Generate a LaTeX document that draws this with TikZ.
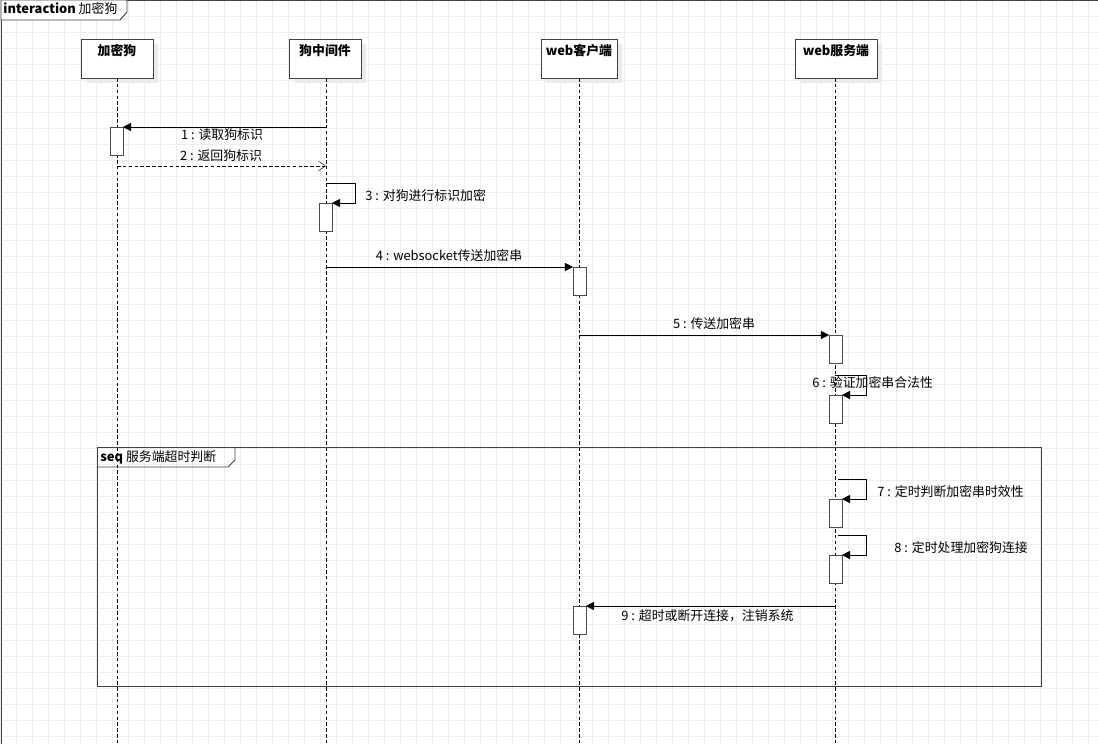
\documentclass[tikz,border=0pt]{standalone}
\usepackage{fontspec}
\setmainfont{Liberation Sans}
\newfontfamily\cjk{Noto Sans CJK SC}
\usetikzlibrary{arrows.meta}
\tikzset{
	obj/.style={draw=black!75,fill=white,thick,anchor=north west,inner sep=0pt},
	shadowbox/.style={fill=black!8},
	act/.style={draw=black!70,fill=white,thick},
	msg/.style={-{Triangle[length=7pt,width=7pt]}},
	reply/.style={densely dashed,-{Straight Barb[length=6pt,width=8pt]}},
	life/.style={densely dashed},
	lbl/.style={font=\cjk\fontsize{11}{13}\selectfont,inner sep=1pt}
}
\begin{document}
\begin{tikzpicture}[x=0.03cm,y=-0.03cm]
	\useasboundingbox (0,0) rectangle (1098,744);
	% grid
	\draw[black!7,step=0.48cm] (0,0) grid (1098,744);
	% frame
	\draw[black!75,thick] (1,744)--(1,0)--(1098,0);
	\draw[black!75,thick,fill=white] (1,0)--(1,20)--(120,20)--(127,12)--(127,0)--cycle;
	\node[anchor=west,lbl] (title) at (2,9) {\textbf{interaction} 加密狗};
	% objects
	\foreach \nm/\x/\w/\t in {dog/81/72/加密狗,mid/289/72/狗中间件,cli/541/76/web客户端,srv/795/82/web服务端}{
		\fill[shadowbox] (\x+5,44) rectangle (\x+\w+5,83);
		\draw[obj] (\x,39) rectangle (\x+\w,78);
		\node[lbl,font=\cjk\bfseries\fontsize{11}{13}\selectfont] (\nm) at (\x+\w/2,51) {\t};
	}
	% lifelines
	\foreach \nm/\x in {dog/117,mid/326,cli/579,srv/835}{
		\coordinate (\nm e) at (\x,744);
		\draw[life] (\x,78) -- (\nm e);
	}
	% activations
	\draw[act] (110,127) rectangle (123,155);
	\draw[act] (319,203) rectangle (332,231);
	\draw[act] (573,267) rectangle (586,295);
	\draw[act] (829,335) rectangle (842,363);
	\draw[act] (829,395) rectangle (842,423);
	\draw[act] (829,499) rectangle (842,527);
	\draw[act] (829,555) rectangle (842,583);
	\draw[act] (573,606) rectangle (586,634);
	% messages
	\draw[msg] (326,127) -- (123,127);
	\node[lbl] at (222,135) {1 : 读取狗标识};
	\draw[reply] (117,166) -- (326,166);
	\node[lbl] at (221,156) {2 : 返回狗标识};
	\draw[msg] (326,183) -- (355,183) -- (355,203) -- (332,203);
	\node[lbl,anchor=west] at (364,196) {3 : 对狗进行标识加密};
	\draw[msg] (326,267) -- (573,267);
	\node[lbl] at (449,256) {4 : websocket传送加密串};
	\draw[msg] (579,335) -- (829,335);
	\node[lbl] at (714,324) {5 : 传送加密串};
	\draw[msg] (835,375) -- (866,375) -- (866,395) -- (842,395);
	\node[lbl,anchor=west] at (811,383) {6 : 验证加密串合法性};
	% seq fragment
	\draw[black!75,thick] (97,447) rectangle (1041,686);
	\draw[black!75,thick] (97,467)--(228,467)--(235,460)--(235,447);
	\node[lbl,anchor=west] (seq) at (99,457) {\textbf{seq} 服务端超时判断};
	\draw[msg] (838,479) -- (866,479) -- (866,499) -- (842,499);
	\node[lbl,anchor=west] at (876,492) {7 : 定时判断加密串时效性};
	\draw[msg] (838,535) -- (866,535) -- (866,555) -- (842,555);
	\node[lbl,anchor=west] at (893,548) {8 : 定时处理加密狗连接};
	\draw[msg] (835,606) -- (586,606);
	\node[lbl,anchor=west] at (620,616) {9 : 超时或断开连接，注销系统};
\end{tikzpicture}
\end{document}
